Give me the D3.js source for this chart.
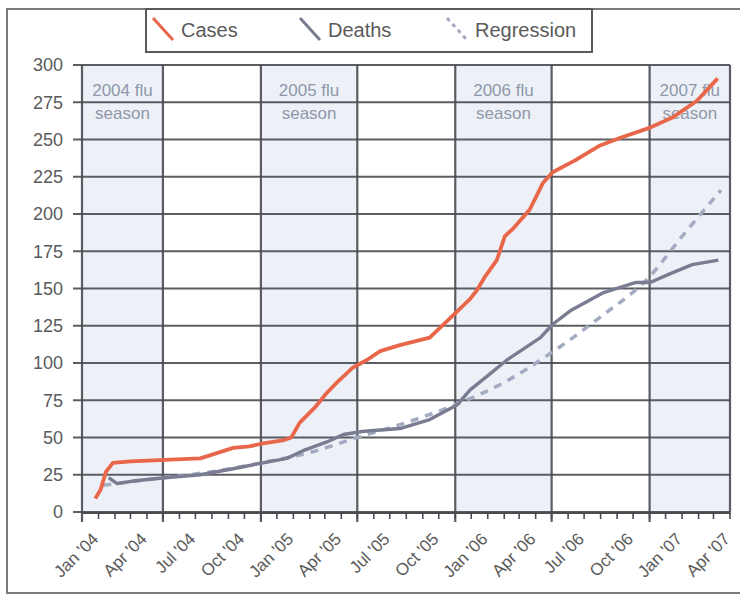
<!DOCTYPE html>
<html><head><meta charset="utf-8">
<script src="https://cdn.jsdelivr.net/npm/d3@7/dist/d3.min.js"></script>
<style>
body{margin:0;background:#fff;}
svg{display:block;font-family:"Liberation Sans",Arial,sans-serif;}
</style></head>
<body><svg id="c" width="740" height="595"></svg>
<script>
// ---- data ----
const yTicks = [0,25,50,75,100,125,150,175,200,225,250,275,300];
const seasonLabels = ["2004 flu","2005 flu","2006 flu","2007 flu"];
const seasonStarts = ["2003-12-01","2004-11-01","2005-11-01","2006-11-01"];
const seasonEnds   = ["2004-05-01","2005-05-01","2006-05-01","2007-04-01"];
const legendNames = ["Cases","Deaths","Regression"];

const casesDates = ["2003-12-26","2004-01-05","2004-01-15","2004-01-28","2004-03-01","2004-05-05","2004-07-10","2004-07-28","2004-09-10","2004-10-10","2004-11-05","2004-12-12","2004-12-28","2005-01-13","2005-02-10","2005-03-05","2005-03-24","2005-04-23","2005-05-19","2005-06-13","2005-07-20","2005-09-14","2005-10-22","2005-11-29","2005-12-12","2005-12-27","2006-01-18","2006-02-02","2006-02-17","2006-03-21","2006-04-15","2006-05-03","2006-06-14","2006-07-31","2006-09-06","2006-11-02","2006-12-15","2007-01-29","2007-03-09"];
const casesValues = [9,15,27,33,34,35,36,38,43,44,46,48,50,60,70,80,87,97,102,108,112,117,130,143,149,158,169,185,190,203,221,228,236,246,251,258,265,276,291];

const deathsDates = ["2004-01-20","2004-02-05","2004-03-10","2004-05-05","2004-07-10","2004-09-10","2004-11-05","2004-12-20","2005-01-18","2005-03-05","2005-04-05","2005-05-10","2005-06-13","2005-07-20","2005-09-14","2005-11-05","2005-11-29","2005-12-27","2006-02-06","2006-04-10","2006-05-03","2006-06-05","2006-08-05","2006-10-05","2006-11-02","2006-12-10","2007-01-20","2007-03-10"];
const deathsValues = [23,19,21,23,25,29,33,36,41,47,52,54,55,56,62,72,82,90,102,117,126,135,147,154,154,160,166,169];

const regDates = ["2004-01-10","2004-05-01","2004-08-01","2004-11-01","2005-02-01","2005-05-01","2005-08-01","2005-11-01","2006-02-01","2006-05-01","2006-08-01","2006-11-01","2007-01-01","2007-03-15"];
const regValues = [18,23,27,33,40,50,60,72,87,107,131,158,185,216];

// ---- setup ----
const parse = d3.timeParse("%Y-%m-%d");
const svg = d3.select("#c");
const X0 = 82, X1 = 730, Y0 = 512, Y1 = 65;
const x = d3.scaleTime().domain([parse("2003-12-01"), parse("2007-04-01")]).range([X0, X1]);
const y = d3.scaleLinear().domain([0,300]).range([Y0, Y1]);

const gridColor = "#4a4c52", textColor = "#5a5a5a";

// outer frame
svg.append("path").attr("d","M760,9 H7 V593 H760").attr("fill","none").attr("stroke","#7a7a7a").attr("stroke-width",2);

// season bands
const seasons = seasonLabels.map((l,i)=>({label:l, s:parse(seasonStarts[i]), e:parse(seasonEnds[i])}));
svg.selectAll("rect.band").data(seasons).join("rect").attr("class","band")
  .attr("x",d=>x(d.s)).attr("y",Y1).attr("width",d=>x(d.e)-x(d.s)).attr("height",Y0-Y1)
  .attr("fill","#edf1f7");

// horizontal gridlines
svg.selectAll("line.hg").data(yTicks).join("line").attr("class","hg")
  .attr("x1",73).attr("x2",X1).attr("y1",d=>y(d)).attr("y2",d=>y(d))
  .attr("stroke",gridColor).attr("stroke-width",2.2).attr("opacity",0.9);

// vertical band edges
const edges = [];
seasons.forEach(d=>{edges.push(d.s); edges.push(d.e);});
svg.selectAll("line.vg").data(edges).join("line").attr("class","vg")
  .attr("x1",d=>x(d)).attr("x2",d=>x(d)).attr("y1",Y1).attr("y2",d=>Y0+ (x(d)>=X1-1?0:10))
  .attr("stroke",gridColor).attr("stroke-width",2.2).attr("opacity",0.9);

// season labels
const sl = svg.append("g").attr("fill","#8e98aa").attr("font-size",17).attr("text-anchor","middle");
seasons.forEach(d=>{
  const cx = (x(d.s)+x(d.e))/2;
  sl.append("text").attr("x",cx).attr("y",96).text(d.label);
  sl.append("text").attr("x",cx).attr("y",119).text("season");
});

// y axis labels
const ya = svg.append("g").attr("transform",`translate(${X0},0)`)
  .call(d3.axisLeft(y).tickValues(yTicks).tickSize(0).tickPadding(19).tickFormat(d3.format("d")));
ya.select(".domain").remove();
ya.selectAll("text").attr("font-size",18).attr("fill",textColor).attr("font-family","Liberation Sans, Arial, sans-serif");

// x axis baseline and ticks
svg.append("line").attr("x1",X0).attr("x2",X1).attr("y1",Y0+1).attr("y2",Y0+1).attr("stroke",gridColor).attr("stroke-width",2.2);
const months = d3.timeMonth.range(parse("2004-01-01"), parse("2007-04-02"));
svg.selectAll("line.mt").data(months).join("line").attr("class","mt")
  .attr("x1",d=>x(d)).attr("x2",d=>x(d)).attr("y1",Y0).attr("y2",Y0+7)
  .attr("stroke",gridColor).attr("stroke-width",1.6);
const labelMonths = months.filter(d=>d.getMonth()%3===0);
const fmt = d3.timeFormat("%b '%y");
svg.selectAll("text.xl").data(labelMonths).join("text").attr("class","xl")
  .attr("transform",d=>`translate(${x(d)+1},${Y0+28}) rotate(-45)`)
  .attr("text-anchor","end").attr("font-size",17).attr("fill",textColor)
  .text(d=>fmt(d));

// lines
const line = d3.line().x(d=>x(d[0])).y(d=>y(d[1]));
const regData = regDates.map((d,i)=>[parse(d), regValues[i]]);
const deathsData = deathsDates.map((d,i)=>[parse(d), deathsValues[i]]);
const casesData = casesDates.map((d,i)=>[parse(d), casesValues[i]]);

svg.append("path").datum(regData).attr("d",line.curve(d3.curveMonotoneX)).attr("fill","none")
  .attr("stroke","#a3abc2").attr("stroke-width",3.5).attr("stroke-dasharray","8,7");
svg.append("path").datum(deathsData).attr("d",line.curve(d3.curveLinear)).attr("fill","none")
  .attr("stroke","#7a7c92").attr("stroke-width",3.4).attr("stroke-linejoin","round");
svg.append("path").datum(casesData).attr("d",line.curve(d3.curveLinear)).attr("fill","none")
  .attr("stroke","#e8674a").attr("stroke-width",3.8).attr("stroke-linejoin","round");

// legend
svg.append("rect").attr("x",146).attr("y",9).attr("width",446).attr("height",43)
  .attr("fill","#fff").attr("stroke","#5a5a5a").attr("stroke-width",2);
const legColors = ["#e8674a","#7a7c92","#a3abc2"];
const legDash = [null,null,"4,4"];
const legX = [153,300,447];
legendNames.forEach((n,i)=>{
  svg.append("line").attr("x1",legX[i]).attr("y1",18).attr("x2",legX[i]+20).attr("y2",40)
    .attr("stroke",legColors[i]).attr("stroke-width",3).attr("stroke-dasharray",legDash[i]);
  svg.append("text").attr("x",legX[i]+28).attr("y",37).attr("font-size",20).attr("fill",textColor).text(n);
});
</script></body></html>
